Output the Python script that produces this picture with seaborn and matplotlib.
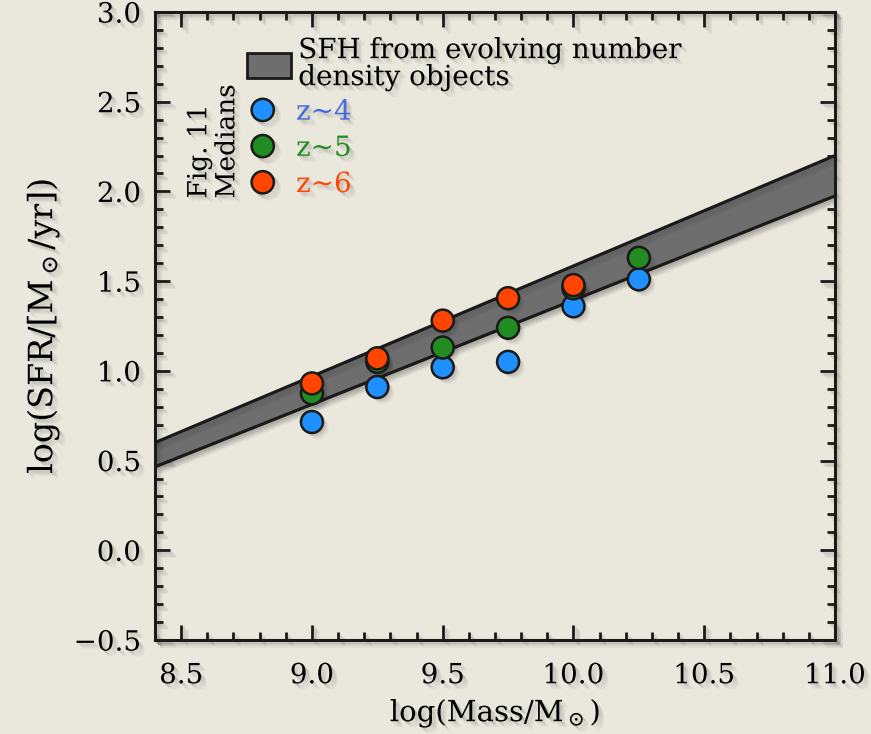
import numpy as np
import pandas as pd
import matplotlib
matplotlib.use("Agg")
import matplotlib.pyplot as plt
import matplotlib.patheffects as pe
from matplotlib.lines import Line2D
from matplotlib.patches import Patch
from matplotlib.ticker import MultipleLocator
import seaborn as sns

# ---- data ----
band_x = [8.4, 11.0]
band_upper = [0.60, 2.20]
band_lower = [0.465, 1.975]

mass_z4 = [9.0, 9.25, 9.5, 9.75, 10.0, 10.25]
sfr_z4 = [0.715, 0.91, 1.02, 1.05, 1.36, 1.51]
mass_z5 = [9.0, 9.25, 9.5, 9.75, 10.0, 10.25]
sfr_z5 = [0.875, 1.05, 1.13, 1.24, 1.46, 1.63]
mass_z6 = [9.0, 9.25, 9.5, 9.75, 10.0]
sfr_z6 = [0.93, 1.07, 1.28, 1.405, 1.478]

groups = ["z~4", "z~5", "z~6"]
marker_colors = {"z~4": "#1E90FF", "z~5": "#228B22", "z~6": "#FF4500"}
text_colors = {"z~4": "#4169E1", "z~5": "#228B22", "z~6": "#FF4500"}
x_ticks = [8.5, 9.0, 9.5, 10.0, 10.5, 11.0]
y_ticks = [-0.5, 0.0, 0.5, 1.0, 1.5, 2.0, 2.5, 3.0]

df = pd.concat([
    pd.DataFrame({"mass": mass_z4, "sfr": sfr_z4, "z": "z~4"}),
    pd.DataFrame({"mass": mass_z5, "sfr": sfr_z5, "z": "z~5"}),
    pd.DataFrame({"mass": mass_z6, "sfr": sfr_z6, "z": "z~6"}),
], ignore_index=True)

# ---- style ----
bg = "#EAE7DC"
sns.set_theme(style="ticks")
plt.rcParams["font.family"] = ["DejaVu Serif"]
plt.rcParams["mathtext.fontset"] = "dejavuserif"
for k in ["text.color", "axes.labelcolor", "xtick.color", "ytick.color", "axes.edgecolor"]:
    plt.rcParams[k] = "black"


def soft(kind):
    effs = []
    for o, a in [(1.2, 0.07), (2.2, 0.07), (3.2, 0.06), (4.2, 0.04)]:
        if kind == "line":
            effs.append(pe.SimpleLineShadow(offset=(o, -o), shadow_color="k", alpha=a))
        else:
            effs.append(pe.SimplePatchShadow(offset=(o, -o), shadow_rgbFace="k", alpha=a))
    effs.append(pe.Normal())
    return effs


shadow_text = soft("patch")
shadow_patch = soft("patch")
shadow_line = soft("line")

fig = plt.figure(figsize=(8.71, 7.34), dpi=100, facecolor=bg)
ax = fig.add_axes([155 / 871, 94 / 734, 680 / 871, 628 / 734])
ax.set_facecolor(bg)

# band
fb = ax.fill_between(band_x, band_lower, band_upper, color="#6E6E6E", lw=0, zorder=2)
fb.set_path_effects(shadow_patch)
for yy in (band_upper, band_lower):
    sns.lineplot(x=band_x, y=yy, color="k", lw=2.3, ax=ax, zorder=3)
for l in ax.lines:
    l.set_path_effects(shadow_line)

# points
sns.scatterplot(data=df, x="mass", y="sfr", hue="z", palette=marker_colors,
                hue_order=groups, s=250, edgecolor="k", linewidth=1.8,
                legend=False, ax=ax, zorder=5)
for c in ax.collections[1:]:
    c.set_path_effects(shadow_patch)

ax.set_xlim(8.4, 11.0)
ax.set_ylim(-0.5, 3.0)
ax.set_xticks(x_ticks)
ax.set_yticks(y_ticks)
ax.set_xticklabels([f"{v:.1f}" for v in x_ticks])
ax.set_yticklabels([f"{v:.1f}".replace("-", "\u2212") for v in y_ticks])
ax.xaxis.set_minor_locator(MultipleLocator(0.1))
ax.yaxis.set_minor_locator(MultipleLocator(0.1))
ax.tick_params(which="both", direction="in", top=True, right=True, color="k", width=2)
ax.tick_params(which="major", length=11)
ax.tick_params(which="minor", length=5.5)
ax.tick_params(axis="x", which="major", labelsize=20, pad=16)
ax.tick_params(axis="y", which="major", labelsize=20, pad=10)
for sp in ax.spines.values():
    sp.set_linewidth(2.2)
    sp.set_color("k")
    sp.set_path_effects(shadow_line)
for lab in ax.get_xticklabels() + ax.get_yticklabels():
    lab.set_path_effects(shadow_text)
for t in ax.xaxis.get_major_ticks() + ax.yaxis.get_major_ticks() + ax.xaxis.get_minor_ticks() + ax.yaxis.get_minor_ticks():
    t.tick1line.set_path_effects(shadow_line)
    t.tick2line.set_path_effects(shadow_line)

ax.set_xlabel(r"log(Mass/M$_\odot$)", fontsize=21, labelpad=5)
ax.set_ylabel(r"log(SFR/[M$_\odot$/yr])", fontsize=24, labelpad=9)
ax.xaxis.label.set_path_effects(shadow_text)
ax.yaxis.label.set_path_effects(shadow_text)

# legends
leg1 = ax.legend(handles=[Patch(facecolor="#6E6E6E", edgecolor="k", linewidth=2)],
                 labels=["SFH from evolving number\ndensity objects"],
                 loc="upper left", bbox_to_anchor=(0.135, 0.96), frameon=False,
                 fontsize=20, handlelength=1.6, handleheight=1.0, handletextpad=0.25,
                 borderpad=0, borderaxespad=0, labelspacing=0)
for t in leg1.get_texts():
    t.set_path_effects(shadow_text)
    t.set_linespacing(1.0)
ax.add_artist(leg1)

handles = [Line2D([], [], ls="", marker="o", markersize=16, markerfacecolor=marker_colors[g],
                  markeredgecolor="k", markeredgewidth=1.8) for g in groups]
leg2 = ax.legend(handles=handles, labels=groups, loc="upper left",
                 bbox_to_anchor=(0.138, 0.862), frameon=False, fontsize=20,
                 handlelength=1.0, handletextpad=0.7, borderpad=0, borderaxespad=0,
                 labelspacing=0.33)
for t, g in zip(leg2.get_texts(), groups):
    t.set_color(text_colors[g])
    t.set_path_effects(shadow_text)
for h in leg2.legend_handles:
    h.set_path_effects(shadow_line)

ax.text(0.085, 0.703, "Fig. 11\nMedians", transform=ax.transAxes, rotation=90,
        ha="center", va="bottom", fontsize=19, multialignment="left",
        linespacing=1.15, path_effects=shadow_text)

fig.savefig("out.png", dpi=100, facecolor=bg)
